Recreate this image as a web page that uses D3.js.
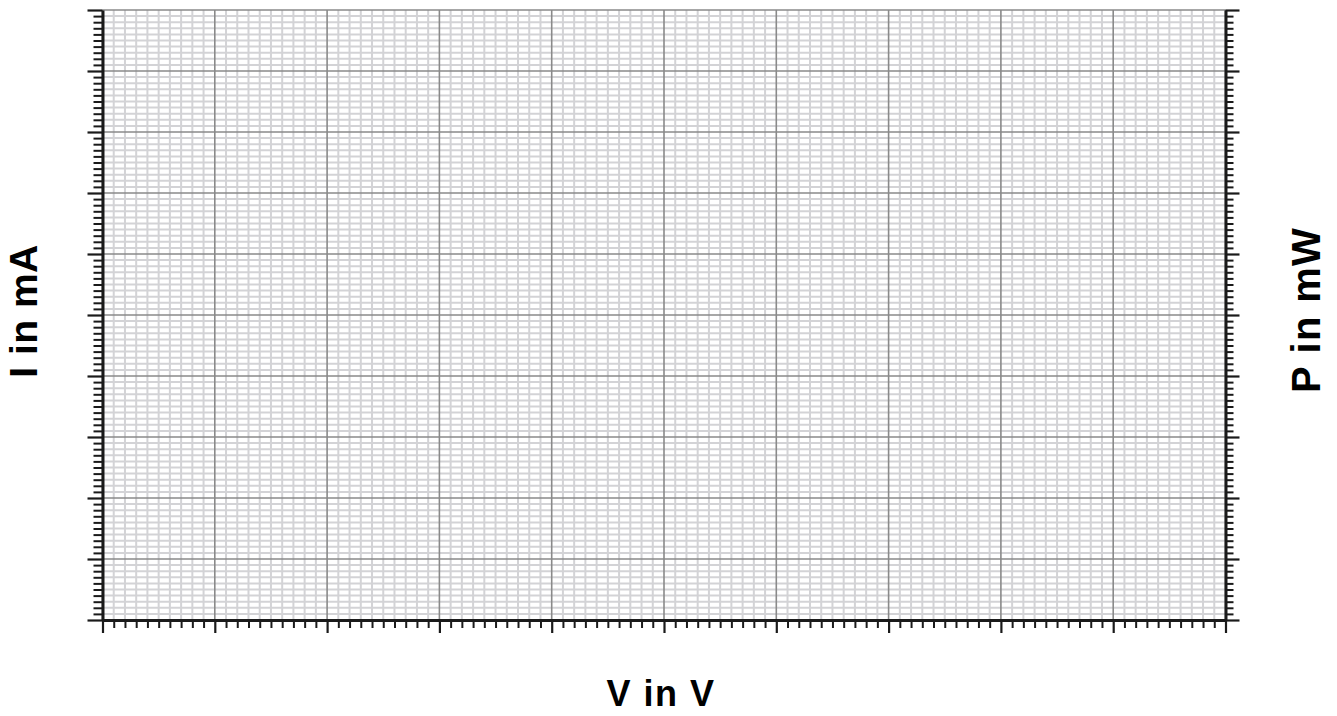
<!DOCTYPE html>
<html><head><meta charset="utf-8">
<script src="https://cdn.jsdelivr.net/npm/d3@7"></script>
<style>body{margin:0;background:#fff}svg{display:block}</style>
</head><body>
<svg id="c" width="1337" height="716"></svg>
<script>
// Empty grid chart: no data series, only axes
const xDomain = [0, 10];
const yDomain = [0, 10];
const rightDomain = [0, 10];
const xMajorTicks = [0, 1, 2, 3, 4, 5, 6, 7, 8, 9, 10];
const yMajorTicks = [0, 1, 2, 3, 4, 5, 6, 7, 8, 9, 10];
const minorPerMajor = 10;
const xTitle = "V in V";
const yTitle = "I in mA";
const y2Title = "P in mW";

const svg = d3.select("#c");
const L = 102.5, R = 1225.5, T = 10, B = 620;
const x = d3.scaleLinear().domain(xDomain).range([L, R]);
const y = d3.scaleLinear().domain(yDomain).range([B, T]);
const y2 = d3.scaleLinear().domain(rightDomain).range([B, T]);

function minorOf(major){
  const out = [];
  for (let i = 0; i < major.length - 1; i++) {
    const a = major[i], b = major[i+1];
    for (let k = 1; k < minorPerMajor; k++) out.push(a + (b - a) * k / minorPerMajor);
  }
  return out;
}
const xMinor = minorOf(xMajorTicks), yMinor = minorOf(yMajorTicks);

const g = svg.append("g");
// minor grid
g.selectAll("line.vx").data(xMinor).join("line")
  .attr("x1", d => x(d)).attr("x2", d => x(d)).attr("y1", T).attr("y2", B)
  .attr("stroke", "#d3d3d6").attr("stroke-width", 2);
g.selectAll("line.hy").data(yMinor).join("line")
  .attr("y1", d => y(d)).attr("y2", d => y(d)).attr("x1", L).attr("x2", R)
  .attr("stroke", "#d3d3d6").attr("stroke-width", 2);
// major grid
g.selectAll("line.vX").data(xMajorTicks).join("line")
  .attr("x1", d => x(d)).attr("x2", d => x(d)).attr("y1", T).attr("y2", B)
  .attr("stroke", "#8a8a8a").attr("stroke-width", 1.6);
g.selectAll("line.hY").data(yMajorTicks).join("line")
  .attr("y1", d => y(d)).attr("y2", d => y(d)).attr("x1", L).attr("x2", R)
  .attr("stroke", "#8a8a8a").attr("stroke-width", 1.6);

function styleAxis(sel, width){
  sel.selectAll("path.domain").attr("stroke", "#1a1a1a").attr("stroke-width", 3);
  sel.selectAll(".tick line").attr("stroke", "#1a1a1a").attr("stroke-width", width);
  sel.selectAll(".tick text").remove();
}
// left axis
const lm = svg.append("g").attr("transform", `translate(${L},0)`)
  .call(d3.axisLeft(y).tickValues(yMinor).tickSize(9).tickSizeOuter(0).tickFormat(""));
styleAxis(lm, 2); lm.select("path.domain").remove();
const lM = svg.append("g").attr("transform", `translate(${L},0)`)
  .call(d3.axisLeft(y).tickValues(yMajorTicks).tickSize(15).tickSizeOuter(0).tickFormat(""));
styleAxis(lM, 2.2);
// right axis
const rm = svg.append("g").attr("transform", `translate(${R},0)`)
  .call(d3.axisRight(y2).tickValues(yMinor).tickSize(8).tickSizeOuter(0).tickFormat(""));
styleAxis(rm, 2); rm.select("path.domain").remove();
const rM = svg.append("g").attr("transform", `translate(${R},0)`)
  .call(d3.axisRight(y2).tickValues(yMajorTicks).tickSize(14).tickSizeOuter(0).tickFormat(""));
styleAxis(rM, 2.2);
// bottom axis
const bm = svg.append("g").attr("transform", `translate(0,${B})`)
  .call(d3.axisBottom(x).tickValues(xMinor).tickSize(8).tickSizeOuter(0).tickFormat(""));
styleAxis(bm, 2); bm.select("path.domain").remove();
const bM = svg.append("g").attr("transform", `translate(0,${B})`)
  .call(d3.axisBottom(x).tickValues(xMajorTicks).tickSize(13).tickSizeOuter(0).tickFormat(""));
styleAxis(bM, 2.2);

const font = "'Liberation Sans', Arial, sans-serif";
svg.append("text").attr("x", 661).attr("y", 706)
  .attr("text-anchor", "middle").attr("font-family", font).attr("font-weight", "bold")
  .attr("font-size", 36).attr("letter-spacing", 1.5).attr("fill", "#000").text(xTitle);
svg.append("text").attr("transform", `translate(37,311) rotate(-90)`)
  .attr("text-anchor", "middle").attr("font-family", font).attr("font-weight", "bold")
  .attr("font-size", 39).attr("letter-spacing", 0.5).attr("fill", "#000").text(yTitle);
svg.append("text").attr("transform", `translate(1320,310) rotate(-90)`)
  .attr("text-anchor", "middle").attr("font-family", font).attr("font-weight", "bold")
  .attr("font-size", 40).attr("letter-spacing", 1.3).attr("fill", "#000").text(y2Title);
</script>
</body></html>
